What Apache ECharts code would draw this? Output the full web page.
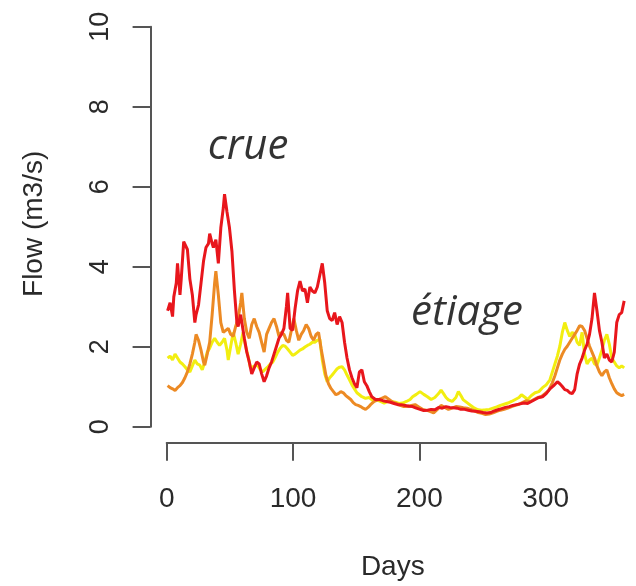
<!DOCTYPE html>
<html><head><meta charset="utf-8">
<script src="https://cdn.jsdelivr.net/npm/echarts@6/dist/echarts.min.js"></script>
<style>html,body{margin:0;padding:0;background:#fff}#c{width:636px;height:586px}</style>
</head><body><div id="c"></div>
<script>
const redDays = [1,3,5,6,8,9,11,12,14,15,17,19,21,23,24,26,28,30,32,34,35,37,38,40,42,44,46,47,49,51,53,55,57,58,60,61,63,65,67,69,71,73,75,77,79,81,83,85,87,89,91,93,95,97,98,100,102,104,106,108,110,112,114,116,118,120,122,124,126,128,130,132,134,136,138,140,142,144,146,148,150,152,154,156,158,160,162,164,166,169,172,175,178,181,184,187,190,193,196,199,202,205,208,211,214,217,220,223,226,229,232,235,238,241,244,247,250,253,256,259,262,265,268,271,274,277,280,283,286,289,292,295,298,301,304,307,310,313,316,318,320,322,324,326,328,330,332,334,336,338,340,342,344,346,348,350,352,354,356,358,360,362,364,366,368,370];
const redFlow = [2.8,3.0,2.65,3.15,3.5,4.0,3.2,3.6,4.55,4.5,4.35,3.6,3.2,2.5,2.7,2.95,3.5,4.05,4.4,4.5,4.75,4.5,4.4,4.6,4.0,4.9,5.4,5.75,5.3,4.9,4.3,3.3,2.5,2.4,2.7,2.5,2.1,1.75,1.5,1.2,1.35,1.5,1.45,1.2,1.0,1.15,1.35,1.5,1.7,1.9,2.1,2.2,2.35,2.9,3.25,2.35,2.3,2.85,3.3,3.55,3.3,3.35,3.0,3.4,3.3,3.25,3.4,3.7,4.0,3.5,2.8,2.6,2.55,2.75,2.45,2.65,2.5,2.0,1.6,1.3,1.1,0.95,0.85,1.25,1.3,1.0,0.9,0.75,0.62,0.55,0.55,0.52,0.5,0.48,0.45,0.42,0.42,0.4,0.38,0.37,0.33,0.3,0.27,0.28,0.3,0.29,0.35,0.33,0.37,0.35,0.34,0.33,0.3,0.3,0.28,0.26,0.25,0.24,0.22,0.21,0.22,0.26,0.29,0.32,0.35,0.37,0.4,0.42,0.44,0.46,0.45,0.5,0.55,0.6,0.62,0.7,0.82,0.9,1.0,0.95,0.88,0.8,0.78,0.72,0.7,0.8,1.2,1.45,1.6,1.8,1.95,2.2,2.6,3.25,2.8,2.3,2.0,1.6,1.7,1.55,1.5,1.75,2.5,2.7,2.75,3.05];

const orangeDays = [1,3,5,7,9,11,13,15,17,19,21,23,24,26,28,30,31,33,35,37,39,40,42,44,46,48,50,52,54,56,58,60,61,63,65,67,69,71,73,75,77,79,81,83,85,87,89,91,93,95,97,99,101,103,105,107,109,111,113,115,117,119,121,123,125,127,129,131,133,135,137,139,141,143,145,147,149,151,153,155,157,159,161,163,165,168,171,174,177,180,183,186,189,192,195,198,201,204,207,210,213,216,219,222,225,228,231,234,237,240,243,246,249,252,255,258,261,264,267,270,273,276,279,282,285,288,291,294,297,300,303,306,309,312,314,316,318,320,322,324,326,328,330,332,334,336,338,340,342,344,346,348,350,352,354,356,358,360,362,364,366,368,370];
const orangeFlow = [0.9,0.85,0.82,0.78,0.85,0.9,0.98,1.1,1.25,1.45,1.7,2.0,2.2,2.05,1.8,1.5,1.42,1.7,2.0,2.7,3.5,3.8,3.2,2.5,2.25,2.3,2.35,2.2,2.15,2.4,2.6,3.0,3.25,2.6,2.25,2.1,2.45,2.6,2.4,2.25,2.0,1.75,2.2,2.35,2.5,2.6,2.4,2.15,2.25,2.2,2.05,2.0,2.3,2.6,2.3,2.05,2.2,2.3,2.45,2.35,2.15,2.05,2.2,2.25,1.85,1.5,1.15,0.95,0.83,0.75,0.67,0.7,0.75,0.72,0.65,0.6,0.55,0.47,0.42,0.4,0.37,0.33,0.3,0.35,0.42,0.5,0.54,0.58,0.62,0.55,0.48,0.45,0.4,0.37,0.38,0.4,0.42,0.36,0.3,0.28,0.25,0.21,0.3,0.4,0.35,0.3,0.33,0.37,0.36,0.34,0.33,0.3,0.26,0.22,0.2,0.17,0.18,0.21,0.25,0.28,0.3,0.33,0.37,0.4,0.43,0.48,0.52,0.5,0.55,0.6,0.62,0.7,0.78,0.98,1.15,1.35,1.55,1.7,1.82,1.9,2.0,2.1,2.2,2.3,2.42,2.4,2.3,2.1,1.9,1.75,1.6,1.4,1.25,1.15,1.25,1.3,1.1,0.95,0.82,0.72,0.68,0.65,0.68];

const yellowDays = [1,3,5,7,9,11,13,15,17,19,21,23,25,27,29,31,33,35,37,39,41,43,45,47,49,50,52,54,56,58,60,62,64,66,68,70,72,74,76,78,80,82,84,86,88,90,92,94,96,98,100,102,104,106,108,110,112,114,116,118,120,122,124,126,128,130,132,134,136,138,140,142,144,146,148,150,152,154,156,158,161,164,167,170,173,176,179,182,185,188,191,194,197,199,202,205,208,211,214,217,220,222,224,226,228,231,234,236,238,240,243,246,249,252,255,258,261,264,267,270,273,276,279,282,285,287,290,292,295,298,301,304,307,310,312,314,316,318,320,322,324,326,328,330,332,334,336,338,340,342,344,346,348,350,352,354,356,358,360,362,364,366,368,370];
const yellowFlow = [1.6,1.65,1.55,1.7,1.6,1.5,1.45,1.38,1.3,1.25,1.4,1.55,1.45,1.42,1.3,1.5,1.75,1.85,2.0,2.1,2.0,1.92,2.0,2.1,1.8,1.55,1.9,2.25,2.0,1.7,1.95,2.25,1.9,1.65,1.35,1.38,1.42,1.4,1.3,1.25,1.32,1.38,1.45,1.5,1.62,1.75,1.85,1.92,1.9,1.83,1.75,1.67,1.7,1.75,1.8,1.83,1.88,1.92,1.95,2.0,2.0,2.05,2.08,1.55,1.2,1.0,1.1,1.17,1.25,1.33,1.37,1.38,1.3,1.17,1.05,0.92,0.82,0.72,0.67,0.62,0.58,0.6,0.52,0.54,0.5,0.46,0.5,0.5,0.48,0.45,0.46,0.5,0.55,0.62,0.68,0.75,0.68,0.62,0.55,0.6,0.7,0.79,0.7,0.6,0.54,0.5,0.6,0.75,0.65,0.54,0.47,0.4,0.33,0.29,0.28,0.29,0.3,0.33,0.36,0.4,0.43,0.46,0.5,0.55,0.6,0.67,0.6,0.55,0.65,0.72,0.75,0.85,0.92,1.05,1.25,1.45,1.65,1.9,2.25,2.5,2.3,2.15,2.25,2.2,2.0,1.92,2.25,1.7,1.45,1.55,1.6,1.45,1.42,1.6,1.8,2.05,2.2,1.95,1.6,1.5,1.4,1.35,1.4,1.35];

const xTicks = {min: 0, max: 300, interval: 100};
const yTicks = {min: 0, max: 10, interval: 2};
const annoNames = ['crue', 'étiage'];
const annoDays = [66, 243];
const annoFlow = [6.95, 2.75];

const pairs = (d, v) => d.map((x, i) => [x, v[i]]);
const axisColor = '#555';
const textColor = '#2a2a2a';
const labelFont = 'Liberation Sans, Arial, sans-serif';

const chart = echarts.init(document.getElementById('c'), null, {renderer: 'canvas'});
chart.setOption({
  backgroundColor: '#fff',
  animation: false,
  grid: [
    {left: 149.6, top: 10.7, width: 496.6, height: 432, containLabel: false},
    {left: 166.7, top: 441.7, width: 379, height: 1, containLabel: false},
    {left: 150.6, top: 26.7, width: 1, height: 400, containLabel: false}
  ],
  xAxis: [
    {gridIndex: 0, type: 'value', min: -13.56, max: 379.56,
     axisLine: {show: false}, axisTick: {show: false}, axisLabel: {show: false}, splitLine: {show: false},
     name: 'Days', nameLocation: 'middle', nameGap: 116,
     nameTextStyle: {fontSize: 28, color: textColor, fontFamily: labelFont}},
    {gridIndex: 1, type: 'value', min: xTicks.min, max: xTicks.max, interval: xTicks.interval, position: 'bottom',
     axisLine: {show: true, lineStyle: {color: axisColor, width: 2}},
     axisTick: {show: true, inside: false, length: 18, lineStyle: {color: axisColor, width: 2}},
     axisLabel: {show: true, margin: 43, fontSize: 28, color: textColor, fontFamily: labelFont,
       showMinLabel: true, showMaxLabel: true},
     splitLine: {show: false}},
    {gridIndex: 2, type: 'value', min: 0, max: 1, show: false}
  ],
  yAxis: [
    {gridIndex: 0, type: 'value', min: -0.4, max: 10.4,
     axisLine: {show: false}, axisTick: {show: false}, axisLabel: {show: false}, splitLine: {show: false},
     name: 'Flow (m3/s)', nameLocation: 'middle', nameGap: 101, nameRotate: 90,
     nameTextStyle: {fontSize: 28, color: textColor, fontFamily: labelFont}},
    {gridIndex: 1, type: 'value', min: 0, max: 1, show: false},
    {gridIndex: 2, type: 'value', min: yTicks.min, max: yTicks.max, interval: yTicks.interval, position: 'left',
     axisLine: {show: true, lineStyle: {color: axisColor, width: 2}},
     axisTick: {show: true, inside: false, length: 18, lineStyle: {color: axisColor, width: 2}},
     axisLabel: {show: true, rotate: 90, margin: 37, fontSize: 27, color: textColor, fontFamily: labelFont,
       showMinLabel: true, showMaxLabel: true},
     splitLine: {show: false}}
  ],
  series: [
    {type: 'line', name: 'yellow', xAxisIndex: 0, yAxisIndex: 0, data: pairs(yellowDays, yellowFlow),
     showSymbol: false, symbol: 'none', lineStyle: {color: '#f2ee10', width: 3}, z: 2},
    {type: 'line', name: 'orange', xAxisIndex: 0, yAxisIndex: 0, data: pairs(orangeDays, orangeFlow),
     showSymbol: false, symbol: 'none', lineStyle: {color: '#ec8a24', width: 3}, z: 3},
    {type: 'line', name: 'red', xAxisIndex: 0, yAxisIndex: 0, data: pairs(redDays, redFlow),
     showSymbol: false, symbol: 'none', lineStyle: {color: '#e8161c', width: 3}, z: 4},
    {type: 'scatter', name: 'notes', xAxisIndex: 0, yAxisIndex: 0, symbolSize: 0, z: 5,
     data: annoNames.map((n, i) => ({name: n, value: [annoDays[i], annoFlow[i]]})),
     label: {show: true, position: 'inside', formatter: p => p.name, fontSize: 42, fontStyle: 'italic',
       color: '#000', textBorderWidth: 0, fontFamily: 'Open Sans, Noto Sans, sans-serif'}}
  ]
});
</script></body></html>
